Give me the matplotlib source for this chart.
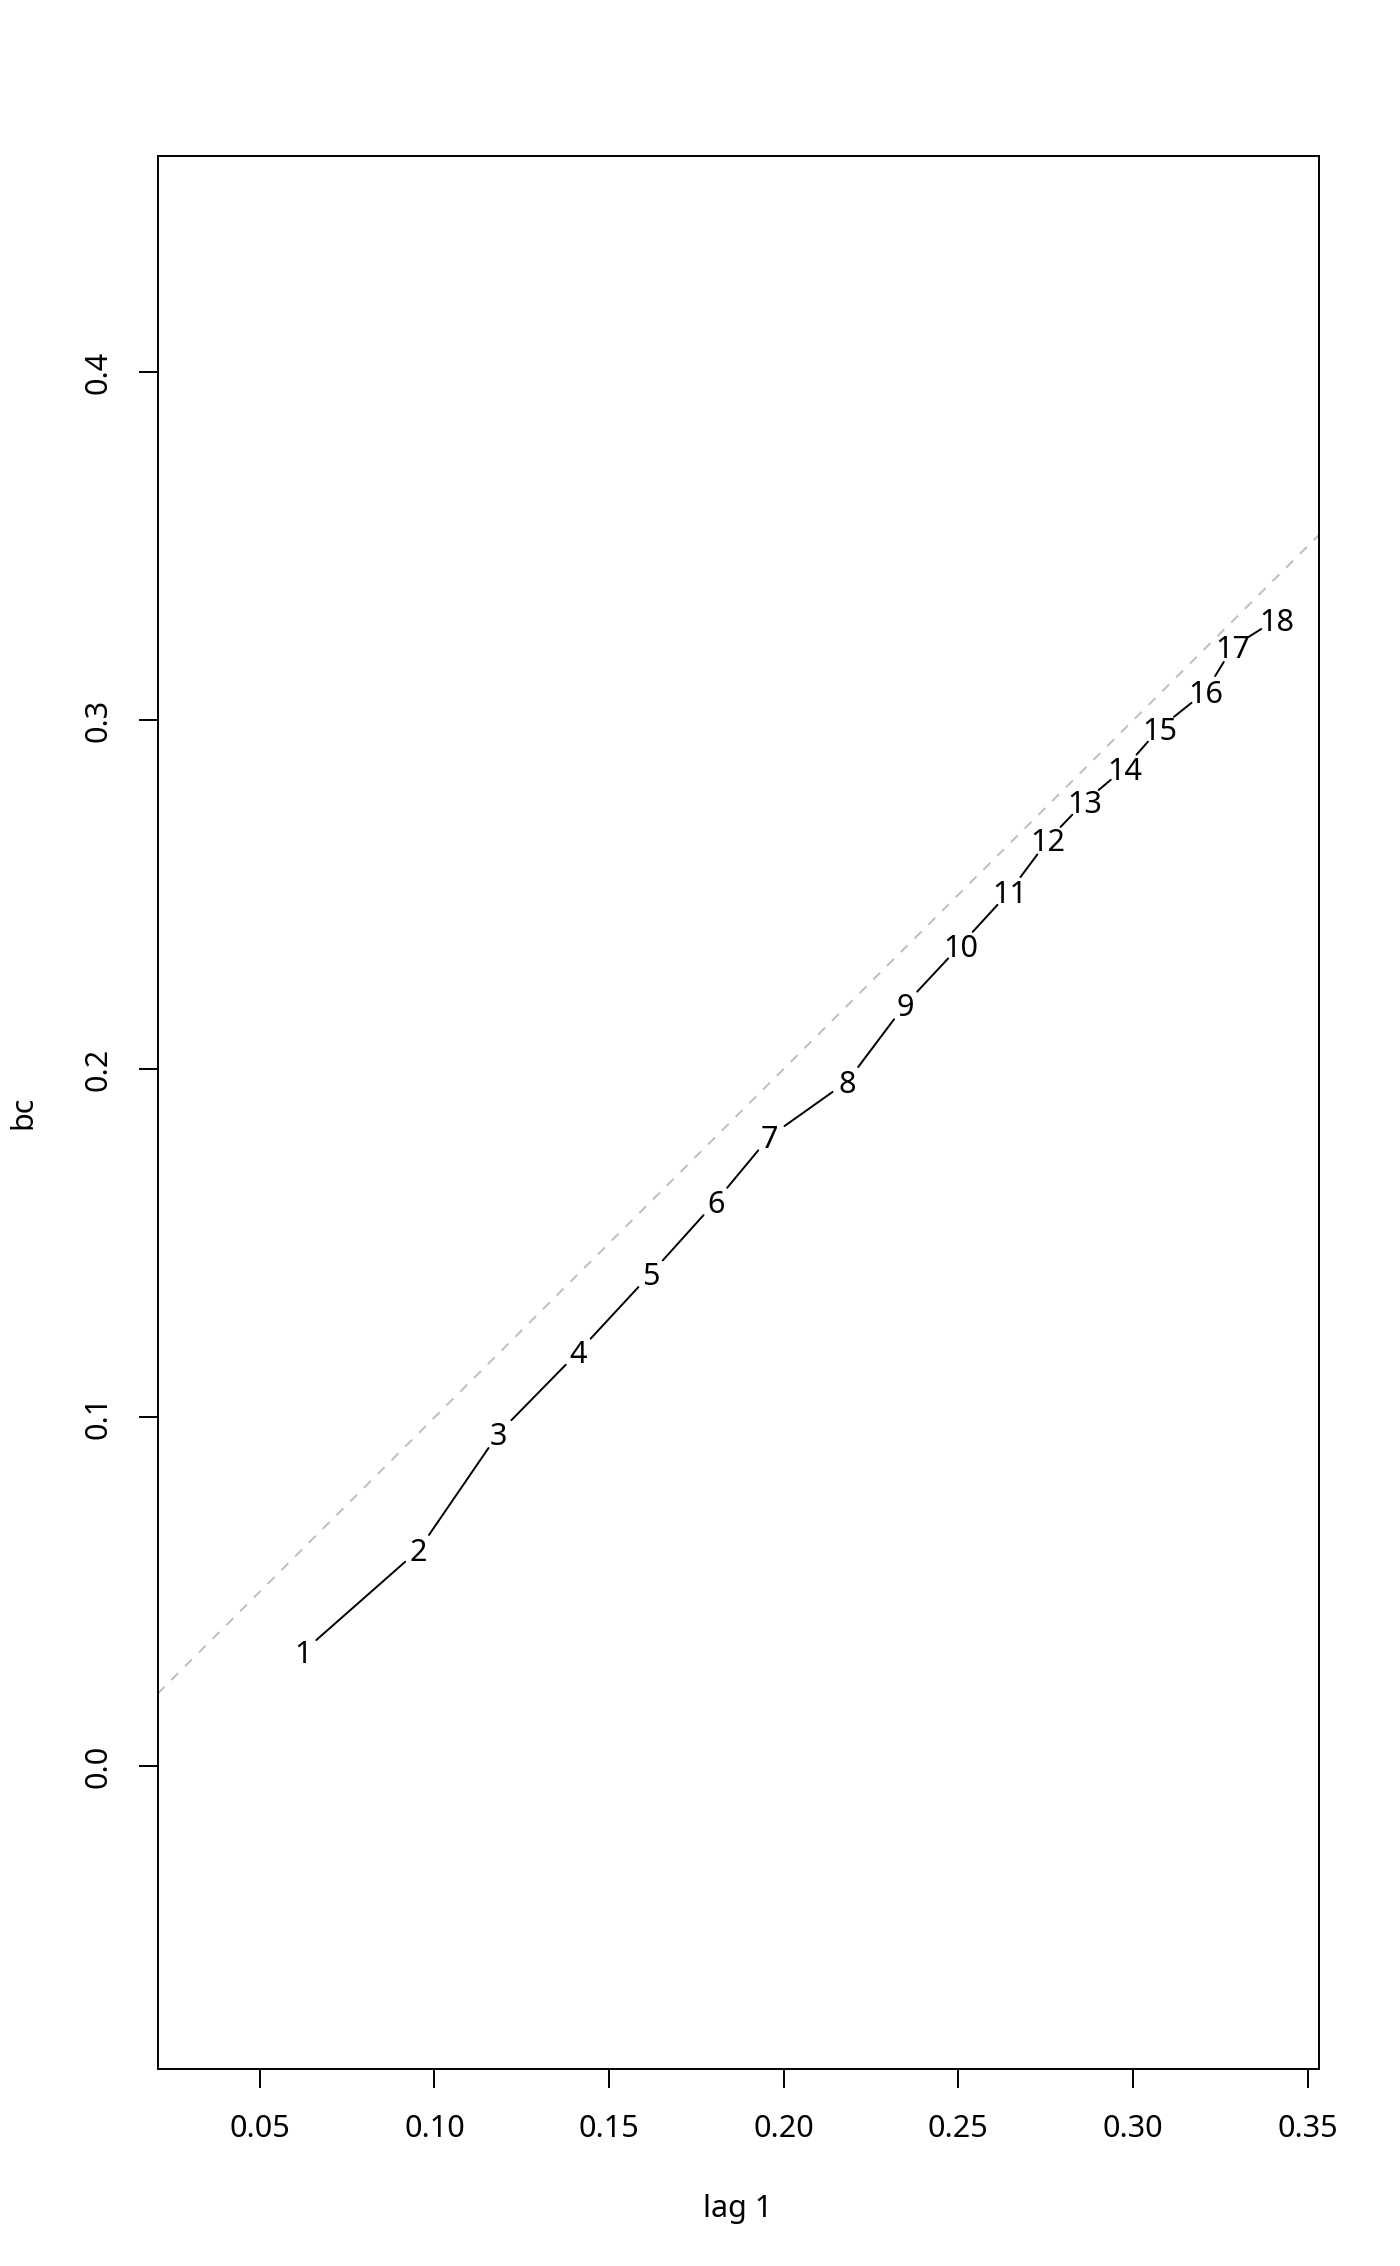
import numpy as np
import matplotlib
matplotlib.use('Agg')
import matplotlib.pyplot as plt

#### Datos ####
lag1 = [0.0623, 0.0955, 0.1184, 0.1412, 0.1619, 0.1805, 0.1960, 0.2182, 0.2347,
        0.2506, 0.2647, 0.2757, 0.2862, 0.2976, 0.3077, 0.3208, 0.3287, 0.3411]
bc = [0.0327, 0.0620, 0.0955, 0.1188, 0.1412, 0.1619, 0.1806, 0.1964, 0.2184,
      0.2355, 0.2509, 0.2657, 0.2767, 0.2863, 0.2978, 0.3083, 0.3212, 0.3290]
etiquetas = [str(i + 1) for i in range(len(lag1))]
xticks = [0.05, 0.10, 0.15, 0.20, 0.25, 0.30, 0.35]
yticks = [0.0, 0.1, 0.2, 0.3, 0.4]

plt.rcParams['font.family'] = ['Noto Sans', 'DejaVu Sans']

fig = plt.figure(figsize=(14, 22.66), dpi=100)
ax = fig.add_axes([0.1125, 0.0869, 0.8295, 0.8443])
ax.set_xlim(0.0207, 0.3532)
ax.set_ylim(-0.087, 0.462)

#### Linea y = x ####
ax.axline((0, 0), slope=1, color='#BEBEBE', linewidth=1.4, linestyle=(0, (5, 5)), zorder=1)

#### Segmentos con hueco alrededor de las etiquetas (tipo "b") ####
for i in range(len(lag1) - 1):
    ax.annotate('', xy=(lag1[i + 1], bc[i + 1]), xytext=(lag1[i], bc[i]),
                arrowprops=dict(arrowstyle='-', color='black', lw=1.4,
                                shrinkA=13, shrinkB=13))

for x, y, t in zip(lag1, bc, etiquetas):
    ax.text(x, y, t, ha='center', va='center_baseline', fontsize=22)

ax.set_xticks(xticks)
ax.set_xticklabels(['%.2f' % v for v in xticks])
ax.set_yticks(yticks)
ax.set_yticklabels(['%.1f' % v for v in yticks], rotation=90, va='center')
ax.tick_params(length=14, width=1.4, labelsize=22, pad=18)
for s in ax.spines.values():
    s.set_linewidth(1.4)

ax.set_xlabel('lag 1', fontsize=22, labelpad=36)
ax.set_ylabel('bc', fontsize=22, labelpad=32)

fig.savefig('out.png', dpi=100)
